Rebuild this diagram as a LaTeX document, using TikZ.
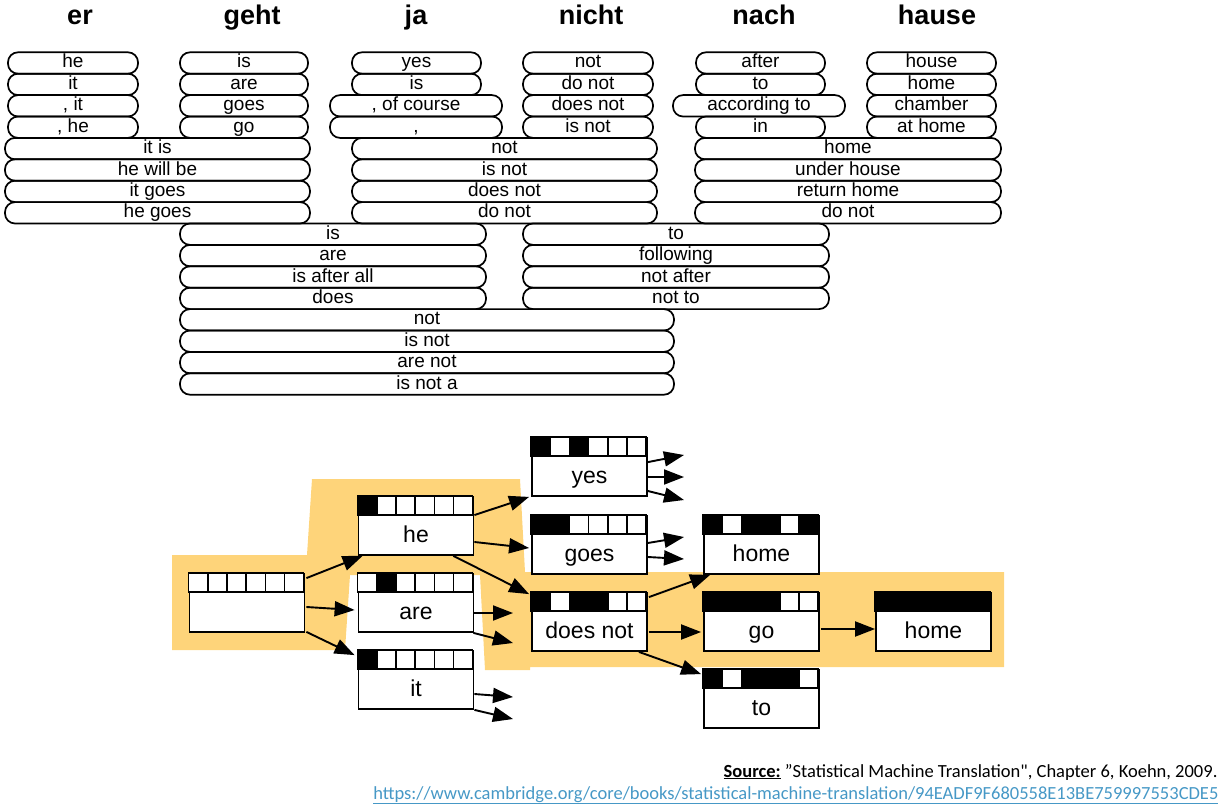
\documentclass[tikz,border=0pt]{standalone}
\usepackage{fontspec}
\setmainfont{Liberation Sans}
\newfontfamily\srcfont{Carlito}
\usepackage{tikz}
\usetikzlibrary{arrows.meta,positioning,calc}
\definecolor{pathhl}{RGB}{254,212,122}
\definecolor{linkblue}{RGB}{70,152,198}

\tikzset{
  pill/.style={draw, line width=1.7pt, rounded corners=10pt, minimum height=21.4pt,
    inner sep=0pt, text height=13pt, text depth=3pt, font=\fontsize{19}{21}\selectfont},
  srcword/.style={font=\bfseries\fontsize{27}{30}\selectfont, anchor=base},
  hyp/.style={draw, line width=1.8pt, fill=white, minimum width=115pt, minimum height=58pt,
    inner sep=0pt, text height=38pt, text depth=6pt, font=\fontsize{23}{25}\selectfont},
  cell/.style={draw, line width=1.5pt},
  arr/.style={line width=1.9pt, -{Triangle[length=20pt,width=15pt]}},
}

\newcommand{\hyp}[5]{%
  \node[hyp] (#1) at (#2,#3) {#4};
  \foreach \v [count=\i] in {#5} {
    \ifnum\v=1 \def\cellfill{black}\else\def\cellfill{white}\fi
    \draw[cell, fill=\cellfill] ($(#1.north west)+({(\i-1)*115/6},0)$) rectangle ++({115/6},19);
  }%
}

\begin{document}
\begin{tikzpicture}[x=1pt,y=-1pt]
  \useasboundingbox (0,0) rectangle (1227,808);

  \node[srcword] (er) at (80,25) {er};
  \node[srcword] (geht) at (252,25) {geht};
  \node[srcword] (ja) at (416,25) {ja};
  \node[srcword] (nicht) at (591,25) {nicht};
  \node[srcword] (nach) at (764,25) {nach};
  \node[srcword] (hause) at (937,25) {hause};

  \foreach \t [count=\r] in {he,it,{, it},{, he}}
    \node[pill, minimum width=130] (er-\r) at (73,{63+(\r-1)*21.4}) {\t};
  \foreach \t [count=\r] in {is,are,goes,go}
    \node[pill, minimum width=128] (geht-\r) at (244,{63+(\r-1)*21.4}) {\t};
  \node[pill, minimum width=129] (ja-1) at (416.5,63) {yes};
  \node[pill, minimum width=129] (ja-2) at (416.5,84.4) {is};
  \node[pill, minimum width=172] (ja-3) at (416,105.8) {, of course};
  \node[pill, minimum width=172] (ja-4) at (416,127.2) {,};
  \foreach \t [count=\r] in {not,do not,does not,is not}
    \node[pill, minimum width=130] (nicht-\r) at (588,{63+(\r-1)*21.4}) {\t};
  \node[pill, minimum width=129] (nach-1) at (760.5,63) {after};
  \node[pill, minimum width=129] (nach-2) at (760.5,84.4) {to};
  \node[pill, minimum width=172] (nach-3) at (759,105.8) {according to};
  \node[pill, minimum width=129] (nach-4) at (760.5,127.2) {in};
  \foreach \t [count=\r] in {house,home,chamber,at home}
    \node[pill, minimum width=129] (hause-\r) at (931.5,{63+(\r-1)*21.4}) {\t};

  \foreach \t [count=\r from 5] in {it is,he will be,it goes,he goes}
    \node[pill, minimum width=305] (ergeht-\r) at (157.5,{63+(\r-1)*21.4}) {\t};
  \foreach \t [count=\r from 5] in {not,is not,does not,do not}
    \node[pill, minimum width=305] (janicht-\r) at (504.5,{63+(\r-1)*21.4}) {\t};
  \foreach \t [count=\r from 5] in {home,under house,return home,do not}
    \node[pill, minimum width=306] (nachhause-\r) at (848,{63+(\r-1)*21.4}) {\t};
  \foreach \t [count=\r from 9] in {is,are,is after all,does}
    \node[pill, minimum width=306] (gehtja-\r) at (333,{63+(\r-1)*21.4}) {\t};
  \foreach \t [count=\r from 9] in {to,following,not after,not to}
    \node[pill, minimum width=306] (nichtnach-\r) at (676,{63+(\r-1)*21.4}) {\t};
  \foreach \t [count=\r from 13] in {not,is not,are not,is not a}
    \node[pill, minimum width=494] (gehtjanicht-\r) at (427,{63+(\r-1)*21.4}) {\t};

  \fill[pathhl] (172,555) -- (307,555) -- (312,479) -- (520,479) -- (525,572) -- (1004,572)
    -- (1004,667) -- (530,667) -- (530,670) -- (485,670) -- (480,575) -- (350,575)
    -- (345,650) -- (172,650) -- cycle;

  \hyp{start}{247}{603}{}{0,0,0,0,0,0}
  \hyp{he}{416}{526}{he}{1,0,0,0,0,0}
  \hyp{are}{416}{603}{are}{0,1,0,0,0,0}
  \hyp{it}{416}{680}{it}{1,0,0,0,0,0}
  \hyp{yes}{589.5}{467}{yes}{1,0,1,0,0,0}
  \hyp{goes}{589.5}{545}{goes}{1,1,0,0,0,0}
  \hyp{doesnot}{589.5}{622}{does not}{1,0,1,1,0,0}
  \hyp{home-a}{761.5}{545}{home}{1,0,1,1,0,1}
  \hyp{go}{761.5}{622}{go}{1,1,1,1,0,0}
  \hyp{to}{761.5}{699}{to}{1,0,1,1,1,0}
  \hyp{home-b}{933.5}{622}{home}{1,1,1,1,1,1}

  \coordinate (are-x1) at (513,613);
  \coordinate (are-x2) at (513,643);
  \coordinate (it-x1) at (513,697);
  \coordinate (it-x2) at (513,719);
  \coordinate (yes-x1) at (684,455);
  \coordinate (yes-x2) at (684,477);
  \coordinate (yes-x3) at (684,500);
  \coordinate (goes-x1) at (684,537);
  \coordinate (goes-x2) at (684,559);

  \draw[arr] ($(start.north east)+(1,5)$) -- ($(he.south west)+(5,0)$);
  \draw[arr] ($(start.east)+(1,4)$) -- ($(are.west)+(-3,7)$);
  \draw[arr] ($(start.south east)+(1,-1)$) -- ($(it.north west)+(-3,5)$);
  \draw[arr] ($(he.north east)+(0,19)$) -- ($(yes.south west)+(-2,0)$);
  \draw[arr] ($(he.east)+(0,16)$) -- ($(goes.west)+(-2,3)$);
  \draw[arr] ($(he.south east)+(-21,0)$) -- ($(doesnot.north west)+(-2,2)$);
  \draw[arr] ($(are.east)+(0,10)$) -- (are-x1);
  \draw[arr] ($(are.south east)+(-1,0)$) -- (are-x2);
  \draw[arr] ($(it.east)+(0,14)$) -- (it-x1);
  \draw[arr] (it.south east) -- (it-x2);
  \draw[arr] ($(yes.north east)+(0,25)$) -- (yes-x1);
  \draw[arr] ($(yes.east)+(0,10)$) -- (yes-x2);
  \draw[arr] ($(yes.east)+(0,24)$) -- (yes-x3);
  \draw[arr] ($(goes.east)+(0,-2)$) -- (goes-x1);
  \draw[arr] ($(goes.east)+(0,12)$) -- (goes-x2);
  \draw[arr] ($(doesnot.north east)+(1,5)$) -- ($(home-a.south west)+(7,0)$);
  \draw[arr] ($(doesnot.east)+(1,10)$) -- ($(go.west)+(-2,10)$);
  \draw[arr] ($(doesnot.south east)+(-9,0)$) -- ($(to.north west)+(-2,5)$);
  \draw[arr] ($(go.east)+(1,7)$) -- ($(home-b.west)+(0,7)$);

  \node[anchor=base east, font=\srcfont\fontsize{18.5}{20}\selectfont] (source) at (1221,777)
    {\underline{\textbf{Source:}} ”Statistical Machine Translation", Chapter 6, Koehn, 2009.};
  \node[anchor=base east, font=\srcfont\fontsize{18.5}{20}\selectfont, text=linkblue] (link) at (1222,799)
    {\underline{https://www.cambridge.org/core/books/statistical-machine-translation/94EADF9F680558E13BE759997553CDE5}};
\end{tikzpicture}
\end{document}
